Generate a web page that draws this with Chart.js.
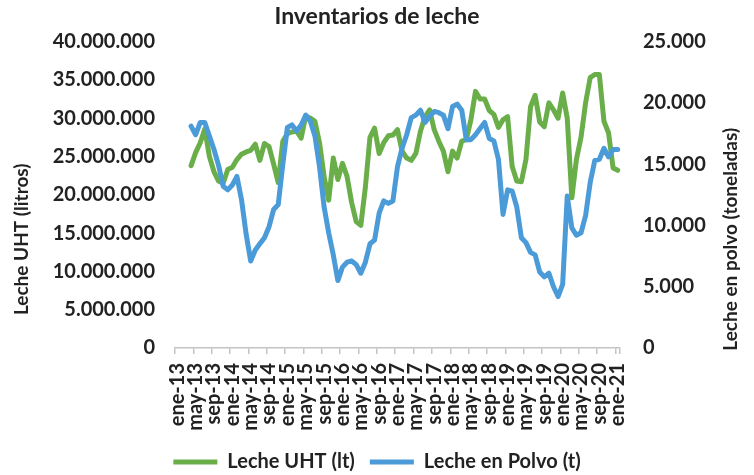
<!DOCTYPE html>
<html lang="es">
<head>
<meta charset="utf-8">
<title>Inventarios de leche</title>
<script src="https://cdn.jsdelivr.net/npm/chart.js@4.4.1/dist/chart.umd.min.js"></script>
<style>
  html, body { margin: 0; padding: 0; background: #fff; }
  #wrap { position: relative; width: 754px; height: 475px; }
</style>
</head>
<body>
<div id="wrap"><canvas id="lecheChart"></canvas></div>
<script>
// Meses (ene-13 .. ene-21)
const meses = [
  'ene-13','feb-13','mar-13','abr-13','may-13','jun-13','jul-13','ago-13','sep-13','oct-13','nov-13','dic-13',
  'ene-14','feb-14','mar-14','abr-14','may-14','jun-14','jul-14','ago-14','sep-14','oct-14','nov-14','dic-14',
  'ene-15','feb-15','mar-15','abr-15','may-15','jun-15','jul-15','ago-15','sep-15','oct-15','nov-15','dic-15',
  'ene-16','feb-16','mar-16','abr-16','may-16','jun-16','jul-16','ago-16','sep-16','oct-16','nov-16','dic-16',
  'ene-17','feb-17','mar-17','abr-17','may-17','jun-17','jul-17','ago-17','sep-17','oct-17','nov-17','dic-17',
  'ene-18','feb-18','mar-18','abr-18','may-18','jun-18','jul-18','ago-18','sep-18','oct-18','nov-18','dic-18',
  'ene-19','feb-19','mar-19','abr-19','may-19','jun-19','jul-19','ago-19','sep-19','oct-19','nov-19','dic-19',
  'ene-20','feb-20','mar-20','abr-20','may-20','jun-20','jul-20','ago-20','sep-20','oct-20','nov-20','dic-20',
  'ene-21'
];

// Leche UHT (litros), eje izquierdo
const lecheUHT = [
  null, null, null, 23800000, 25500000, 26800000, 28600000, 25000000, 23000000, 21800000, 21500000, 23300000,
  23600000, 24600000, 25300000, 25600000, 25800000, 26600000, 24500000, 26700000, 26300000, 24000000, 21600000, 27000000,
  28000000, 28200000, 28300000, 27400000, 30300000, 30000000, 29600000, 26800000, 22400000, 19300000, 24800000, 22000000,
  24100000, 22400000, 19000000, 16500000, 16000000, 21000000, 27500000, 28700000, 25400000, 26800000, 27700000, 27800000,
  28500000, 25700000, 24800000, 24500000, 25400000, 28300000, 30200000, 31100000, 28500000, 27000000, 25700000, 23000000,
  25700000, 24800000, 27000000, 27200000, 29800000, 33500000, 32500000, 32500000, 31000000, 30500000, 28800000, 29800000,
  30200000, 23700000, 21800000, 21700000, 24600000, 31500000, 33000000, 29500000, 28900000, 32000000, 31100000, 30000000,
  33300000, 30000000, 19600000, 24600000, 27500000, 32000000, 35300000, 35700000, 35700000, 29600000, 28100000, 23500000,
  23200000
];

// Leche en polvo (toneladas), eje derecho
const lechePolvo = [
  null, null, null, 18100, 17400, 18400, 18400, 17300, 16200, 14900, 13200, 12900,
  13300, 14000, 12100, 9300, 7100, 8000, 8500, 9000, 9900, 11300, 11700, 15000,
  18000, 18200, 17700, 18200, 19000, 18500, 17300, 14800, 11500, 9400, 7600, 5500,
  6600, 7000, 7100, 6800, 6100, 7000, 8500, 8800, 11000, 12000, 11800, 12000,
  14800, 16300, 17400, 18800, 19000, 19400, 18400, 18900, 19300, 19200, 19000, 17900,
  19700, 19900, 19400, 17000, 17000, 17400, 17900, 18400, 17100, 16900, 15400, 10900,
  12900, 12800, 11500, 9000, 8600, 7800, 7600, 6200, 5800, 6100, 5000, 4200,
  5200, 12400, 9800, 9200, 9400, 10800, 13500, 15300, 15400, 16300, 15600, 16200,
  16200
];

const VERDE = '#6aae4a';
const AZUL = '#4a9bd8';
const TEXTO = '#222222';
const EJE = '#c4c4c4';
const FUENTE = 'Lato, "Open Sans", sans-serif';

Chart.defaults.font.family = FUENTE;
Chart.defaults.color = TEXTO;

// 40000000 -> "40.000.000"
const puntos = v => String(v).replace(/\B(?=(\d{3})+(?!\d))/g, '.');

// titulos de los ejes, centrados como en Excel (area de trazado + etiquetas)
const titulosEjes = {
  id: 'titulosEjes',
  afterDraw(chart) {
    const { ctx, chartArea, scales } = chart;
    const midY = (chartArea.top + scales.x.bottom) / 2;
    ctx.save();
    ctx.font = 'bold 19px ' + FUENTE;
    ctx.fillStyle = TEXTO;
    ctx.textAlign = 'center';
    ctx.textBaseline = 'middle';
    [[scales.y.left + 22, 'Leche UHT (litros)'], [scales.y2.right - 23, 'Leche en polvo (toneladas)']].forEach(([x, t]) => {
      ctx.save();
      ctx.translate(x, midY);
      ctx.rotate(-Math.PI / 2);
      ctx.fillText(t, 0, 0);
      ctx.restore();
    });
    ctx.restore();
  }
};

new Chart(document.getElementById('lecheChart'), {
  type: 'line',
  data: {
    labels: meses,
    datasets: [
      { label: 'Leche UHT (lt)', data: lecheUHT, yAxisID: 'y', borderColor: VERDE, backgroundColor: VERDE, borderWidth: 5, order: 2 },
      { label: 'Leche en Polvo (t)', data: lechePolvo, yAxisID: 'y2', borderColor: AZUL, backgroundColor: AZUL, borderWidth: 5, order: 1 }
    ]
  },
  options: {
    responsive: true,
    maintainAspectRatio: false,
    animation: false,
    layout: { padding: { top: 0, left: 0, right: 0, bottom: -7 } },
    elements: {
      point: { radius: 0, hoverRadius: 0 },
      line: { tension: 0, borderCapStyle: 'round', borderJoinStyle: 'round' }
    },
    plugins: {
      title: {
        display: true, text: 'Inventarios de leche', color: TEXTO,
        font: { size: 23, weight: 'bold' }, padding: { top: 3, bottom: 11 }
      },
      legend: {
        position: 'bottom',
        labels: {
          usePointStyle: true, pointStyle: 'line', pointStyleWidth: 44,
          color: TEXTO, font: { size: 20, weight: 'bold' }, padding: 15,
          sort: (a, b) => a.datasetIndex - b.datasetIndex
        }
      },
      tooltip: { enabled: false }
    },
    scales: {
      x: {
        offset: true,
        grid: {
          display: true, offset: true, drawOnChartArea: false, drawTicks: true, tickLength: 6, lineWidth: 1.5,
          color: c => (c.type === 'scale' || c.index % 4 === 0) ? EJE : 'rgba(0,0,0,0)'
        },
        border: { display: true, color: EJE, width: 1.5 },
        ticks: {
          autoSkip: false, minRotation: 90, maxRotation: 90, padding: 9, color: TEXTO,
          font: { size: 20, weight: 'bold' },
          callback: (v, i) => i % 4 === 0 ? meses[i] : ''
        },
        afterFit: s => { s.height = 89; }
      },
      y: {
        position: 'left', min: 0, max: 40000000,
        grid: { display: false, drawTicks: false },
        border: { display: false },
        ticks: { stepSize: 5000000, padding: 20, color: TEXTO, font: { size: 20, weight: 'bold' }, callback: puntos },
        afterFit: s => { s.width = 175; }
      },
      y2: {
        position: 'right', min: 0, max: 25000,
        grid: { display: false, drawTicks: false },
        border: { display: false },
        ticks: { stepSize: 5000, padding: 23, color: TEXTO, font: { size: 20, weight: 'bold' }, callback: puntos },
        afterFit: s => { s.width = 134; }
      }
    }
  },
  plugins: [titulosEjes]
});
</script>
</body>
</html>
